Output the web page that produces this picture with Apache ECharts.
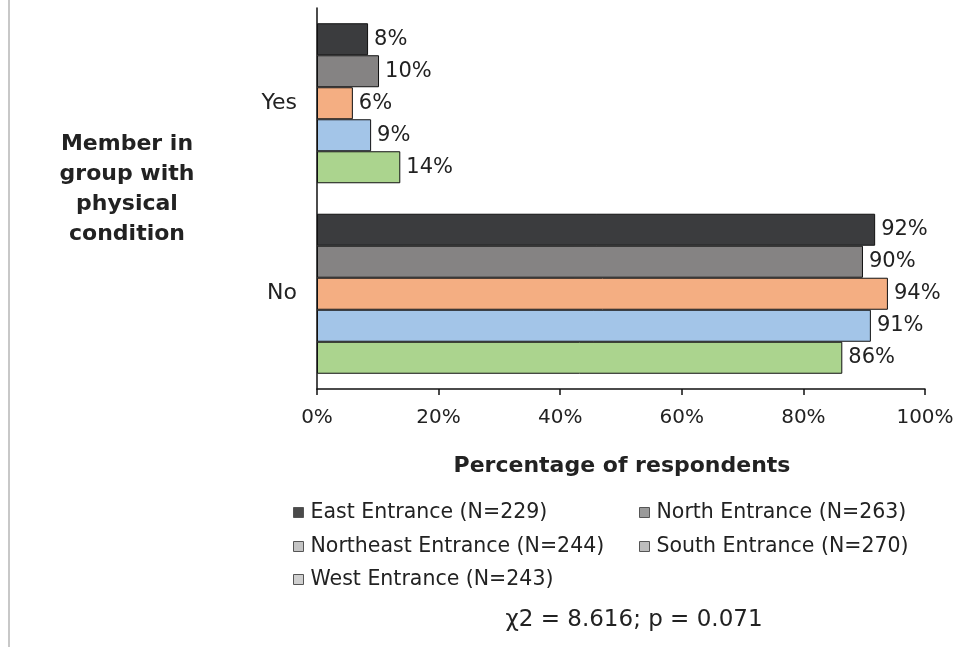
<!DOCTYPE html>
<html>
<head>
<meta charset="utf-8">
<script src="https://cdn.jsdelivr.net/npm/echarts@6/dist/echarts.min.js"></script>
<style>
html,body{margin:0;padding:0;background:#fff;}
#c{width:957px;height:647px;}
</style>
</head>
<body>
<div id="c"></div>
<script>
var categories = ['Yes', 'No'];
var seriesNames = ['East Entrance (N=229)', 'North Entrance (N=263)', 'Northeast Entrance (N=244)', 'South Entrance (N=270)', 'West Entrance (N=243)'];
var eastValues = [8.4, 91.8];
var northValues = [10.2, 89.8];
var northeastValues = [5.9, 93.9];
var southValues = [8.9, 91.1];
var westValues = [13.7, 86.4];
var xTicks = [0, 20, 40, 60, 80, 100];
var yAxisTitle = 'Member in\ngroup with\nphysical\ncondition';
var xAxisTitle = 'Percentage of respondents';
var statText = '\u03c72 = 8.616; p = 0.071';

var FONT = '"DejaVu Sans", "Liberation Sans", Arial, sans-serif';
var colors = ['#3b3c3e', '#858383', '#f4ae82', '#a3c5e8', '#abd48e'];
var legendIconColors = ['#4a4a4a', '#9a9a9a', '#c4c4c4', '#bdbdbd', '#cfcfcf'];
var allValues = [eastValues, northValues, northeastValues, southValues, westValues];

var series = seriesNames.map(function (n, i) {
  return {
    name: n,
    type: 'bar',
    data: allValues[i],
    barGap: '0%',
    barCategoryGap: '16%',
    itemStyle: { color: colors[i], borderColor: '#111', borderWidth: 1 },
    label: {
      show: true, position: 'right', distance: 6,
      fontFamily: FONT, fontSize: 21, color: '#222',
      formatter: function (p) { return Math.round(p.value) + '%'; }
    }
  };
});

var legendPos = [[288, 497], [634, 497], [288, 531], [634, 531], [288, 564]];
var legends = seriesNames.map(function (n, i) {
  return {
    left: legendPos[i][0], top: legendPos[i][1],
    data: [{ name: n, itemStyle: { color: legendIconColors[i], borderColor: '#555', borderWidth: 1 } }],
    icon: 'rect', itemWidth: 10, itemHeight: 10, itemGap: 0,
    textStyle: { fontFamily: FONT, fontSize: 20.5, color: '#222', padding: [0, 0, 0, 2] },
    selectedMode: false
  };
});

var chart = echarts.init(document.getElementById('c'), null, { renderer: 'canvas' });
chart.setOption({
  backgroundColor: '#fff',
  animation: false,
  grid: { left: 317, right: 32, top: 8, bottom: 258, containLabel: false },
  xAxis: {
    type: 'value', min: 0, max: 100, interval: 20,
    axisLine: { show: true, lineStyle: { color: '#111', width: 1.5 } },
    axisTick: { show: true, length: 6, lineStyle: { color: '#111', width: 1.5 } },
    splitLine: { show: false },
    axisLabel: { fontFamily: FONT, fontSize: 20, color: '#222', margin: 19,
      formatter: function (v) { return xTicks.indexOf(v) >= 0 ? v + '%' : ''; } }
  },
  yAxis: {
    type: 'category', data: categories, inverse: true,
    axisLine: { show: true, lineStyle: { color: '#111', width: 1.5 } },
    axisTick: { show: false },
    axisLabel: { fontFamily: FONT, fontSize: 22, color: '#222', margin: 20 }
  },
  legend: legends,
  series: series,
  graphic: [
    { type: 'rect', left: 8, top: 0, shape: { width: 2, height: 647 }, style: { fill: '#c8c8c8' }, silent: true },
    { type: 'text', x: 127, y: 189, style: { text: yAxisTitle, fontFamily: FONT, fontSize: 22, fontWeight: 'bold', fill: '#222', align: 'center', verticalAlign: 'middle', lineHeight: 30 } },
    { type: 'text', x: 622, y: 466, style: { text: xAxisTitle, fontFamily: FONT, fontSize: 22, fontWeight: 'bold', fill: '#222', align: 'center', verticalAlign: 'middle' } },
    { type: 'text', x: 634, y: 620, style: { text: statText, fontFamily: FONT, fontSize: 23, fill: '#222', align: 'center', verticalAlign: 'middle' } }
  ]
});
</script>
</body>
</html>
